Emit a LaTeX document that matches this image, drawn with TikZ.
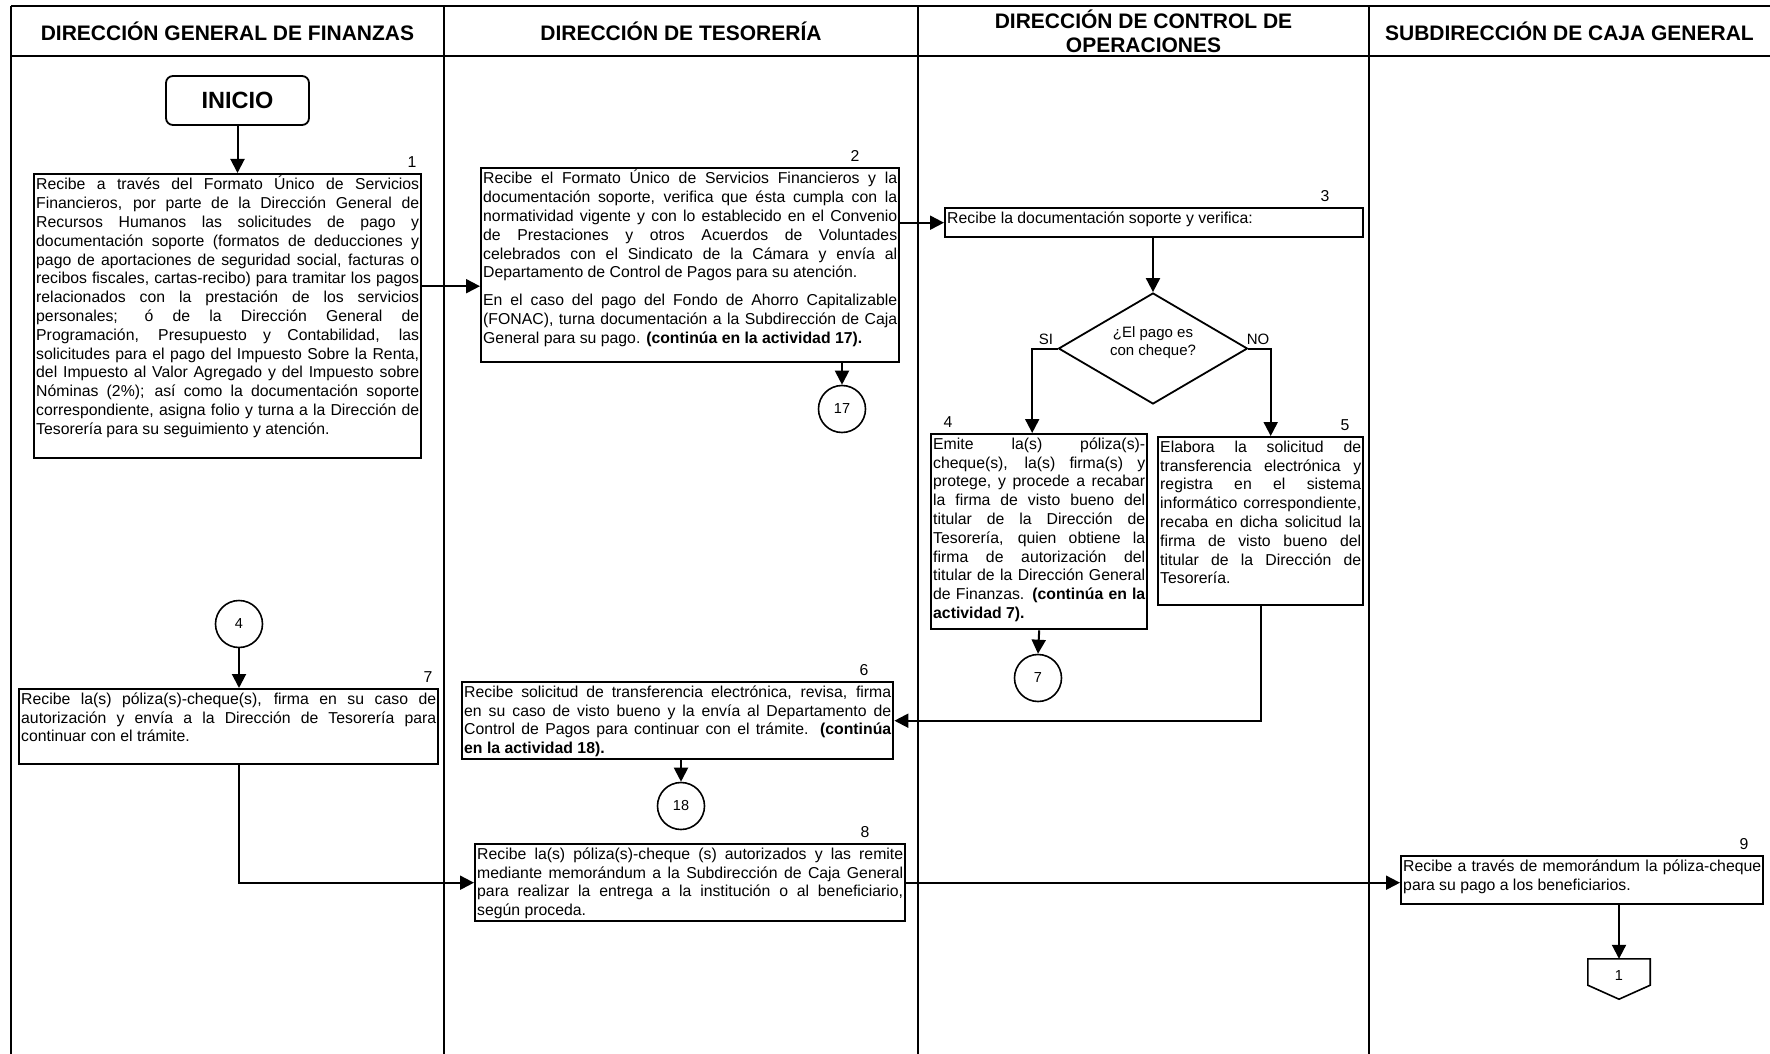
\documentclass[tikz,border=0pt]{standalone}
\usepackage{fontspec}
\setmainfont{Liberation Sans}
\usetikzlibrary{shapes.geometric,arrows.meta,calc}

\tikzset{
  lane/.style={line width=1.5pt},
  lanehead/.style={font=\fontsize{21}{24.5}\selectfont\bfseries, align=center, inner sep=0pt},
  taskbox/.style={draw, line width=2.4pt, inner sep=2pt, anchor=north west},
  stepno/.style={font=\fontsize{15.8}{18}\selectfont, inner sep=1pt, anchor=south},
  conn/.style={line width=2pt, -{Triangle[length=14pt,width=14pt]}},
  refcircle/.style={draw, circle, line width=1.6pt, minimum size=47pt, inner sep=0pt,
    font=\fontsize{14.5}{17}\selectfont},
  branchlbl/.style={font=\fontsize{15}{18}\selectfont, inner sep=0pt},
}
% justified task text with fixed line ends, anchored at the top of a fixed-height box
\newcommand{\boxtxt}[3]{\parbox[t][#2][t]{#1}{\fontsize{15.8}{18.8}\selectfont
  \tolerance=10000 \hyphenpenalty=10000 \exhyphenpenalty=10000 \strut #3}}

\begin{document}
\begin{tikzpicture}[x=1pt,y=-1pt]
\useasboundingbox (0,0) rectangle (1770,1054);
\fill[white] (0,0) rectangle (1770,1054);

% swimlane frame
\draw[lane] (11,6) -- (1770,6);
\draw[lane] (11,56) -- (1770,56);
\foreach \x in {11,444,918,1369} \draw[lane] (\x,6) -- (\x,1054);

\node[lanehead] (h1) at (227.5,31) {DIRECCIÓN GENERAL DE FINANZAS};
\node[lanehead] (h2) at (681,31) {DIRECCIÓN DE TESORERÍA};
\node[lanehead] (h3) at (1143.5,31.5) {DIRECCIÓN DE CONTROL DE\\OPERACIONES};
\node[lanehead] (h4) at (1569.5,31) {SUBDIRECCIÓN DE CAJA GENERAL};

% start
\node[draw, rounded corners=7pt, line width=1.8pt, minimum width=143pt, minimum height=49pt,
  inner sep=0pt, font=\fontsize{23.5}{28}\selectfont\bfseries] (inicio) at (237.5,100.5) {INICIO};

% activities
\node[taskbox] (b1) at (33,173) {\boxtxt{383pt}{280pt}{Recibe a través del Formato Único de Servicios\linebreak
Financieros, por parte de la Dirección General de\linebreak
Recursos Humanos las solicitudes de pago y\linebreak
documentación soporte (formatos de deducciones y\linebreak
pago de aportaciones de seguridad social, facturas o\linebreak
recibos fiscales, cartas-recibo) para tramitar los pagos\linebreak
relacionados con la prestación de los servicios\linebreak
personales; ó de la Dirección General de\linebreak
Programación, Presupuesto y Contabilidad, las\linebreak
solicitudes para el pago del Impuesto Sobre la Renta,\linebreak
del Impuesto al Valor Agregado y del Impuesto sobre\linebreak
Nóminas (2\%); así como la documentación soporte\linebreak
correspondiente, asigna folio y turna a la Dirección de\linebreak
Tesorería para su seguimiento y atención.}};
\node[stepno] (n1) at (412,169) {1};

\node[taskbox] (b2) at (480,167) {\boxtxt{414pt}{190pt}{Recibe el Formato Único de Servicios Financieros y la\linebreak
documentación soporte, verifica que ésta cumpla con la\linebreak
normatividad vigente y con lo establecido en el Convenio\linebreak
de Prestaciones y otros Acuerdos de Voluntades\linebreak
celebrados con el Sindicato de la Cámara y envía al\linebreak
Departamento de Control de Pagos para su atención.\par\vspace{9pt}
\strut En el caso del pago del Fondo de Ahorro Capitalizable\linebreak
(FONAC), turna documentación a la Subdirección de Caja\linebreak
General para su pago. {\bfseries (continúa en la actividad 17).}}};
\node[stepno] (n2) at (855,163) {2};

\node[taskbox] (b3) at (944,207) {\boxtxt{414pt}{25pt}{Recibe la documentación soporte y verifica:}};
\node[stepno] (n3) at (1325,203) {3};

\node[draw, diamond, line width=1.8pt, minimum width=189pt, minimum height=111pt, inner sep=0pt,
  align=center, font=\fontsize{15}{18}\selectfont] (d) at (1153,348.5) {};
\node[branchlbl, align=center, font=\fontsize{15}{18}\selectfont] (dq) at (1153,343) {¿El pago es\\con cheque?};
\node[branchlbl] (si) at (1046,339) {SI};
\node[branchlbl] (no) at (1258,339) {NO};

\node[taskbox] (b4) at (930,433) {\boxtxt{212pt}{191pt}{Emite la(s) póliza(s)-\linebreak
cheque(s), la(s) firma(s) y\linebreak
protege, y procede a recabar\linebreak
la firma de visto bueno del\linebreak
titular de la Dirección de\linebreak
Tesorería, quien obtiene la\linebreak
firma de autorización del\linebreak
titular de la Dirección General\linebreak
de Finanzas. {\bfseries (continúa en la\linebreak
actividad 7).}}};
\node[stepno] (n4) at (948,429) {4};

\node[taskbox] (b5) at (1157,436) {\boxtxt{201pt}{164pt}{Elabora la solicitud de\linebreak
transferencia electrónica y\linebreak
registra en el sistema\linebreak
informático correspondiente,\linebreak
recaba en dicha solicitud la\linebreak
firma de visto bueno del\linebreak
titular de la Dirección de\linebreak
Tesorería.}};
\node[stepno] (n5) at (1345,432) {5};

\node[taskbox] (b7) at (18,688) {\boxtxt{415pt}{71pt}{Recibe la(s) póliza(s)-cheque(s), firma en su caso de\linebreak
autorización y envía a la Dirección de Tesorería para\linebreak
continuar con el trámite.}};
\node[stepno] (n7) at (428,684) {7};

\node[taskbox] (b6) at (461,681) {\boxtxt{427pt}{73pt}{Recibe solicitud de transferencia electrónica, revisa, firma\linebreak
en su caso de visto bueno y la envía al Departamento de\linebreak
Control de Pagos para continuar con el trámite. {\bfseries(continúa\linebreak
en la actividad 18).}}};
\node[stepno] (n6) at (864,677) {6};

\node[taskbox] (b8) at (474,843) {\boxtxt{426pt}{73pt}{Recibe la(s) póliza(s)-cheque (s) autorizados y las remite\linebreak
mediante memorándum a la Subdirección de Caja General\linebreak
para realizar la entrega a la institución o al beneficiario,\linebreak
según proceda.}};
\node[stepno] (n8) at (865,839) {8};

\node[taskbox] (b9) at (1400,855) {\boxtxt{358pt}{44pt}{Recibe a través de memorándum la póliza-cheque\linebreak
para su pago a los beneficiarios.}};
\node[stepno] (n9) at (1744,851) {9};

% connectors to other pages / activities
\node[refcircle] (c17) at (842,409) {17};
\node[refcircle] (c7) at (1038,678) {7};
\node[refcircle] (c4) at (239,624) {4};
\node[refcircle] (c18) at (681,806) {18};

\node[minimum width=62pt, minimum height=40pt, inner sep=0pt] (op) at (1619,979) {};
\draw[line width=1.6pt] (op.north west) -- (op.north east) -- ([yshift=14pt]op.south east)
  -- (op.south) -- ([yshift=14pt]op.south west) -- cycle;
\node[refcircle, draw=none, circle, minimum size=0pt] (oplbl) at ([yshift=3pt]op.center) {1};

% flow
\draw[conn] (inicio.south) -- (inicio.south |- b1.north);
\draw[conn] ([yshift=30pt]b1.east) -- ([yshift=30pt]b1.east -| b2.west);
\draw[conn] (b2.east |- b3.west) -- (b3.west);
\draw[conn] (c17.north |- b2.south) -- (c17.north);
\draw[conn] (d.north |- b3.south) -- (d.north);
\draw[conn] (d.west) -| ([xshift=-7pt]b4.north);
\draw[conn] (d.east) -| ([xshift=10pt]b5.north);
\draw[conn] (b4.south) -- (c7.north);
\draw[conn] (b5.south) |- (b6.east);
\draw[conn] (c4.south) -- (c4.south |- b7.north);
\draw[conn] (c4.south |- b7.south) |- (b8.west);
\draw[conn] (c18.north |- b6.south) -- (c18.north);
\draw[conn] (b8.east) -- (b8.east -| b9.west);
\draw[conn] (op.north |- b9.south) -- (op.north);
\end{tikzpicture}
\end{document}
